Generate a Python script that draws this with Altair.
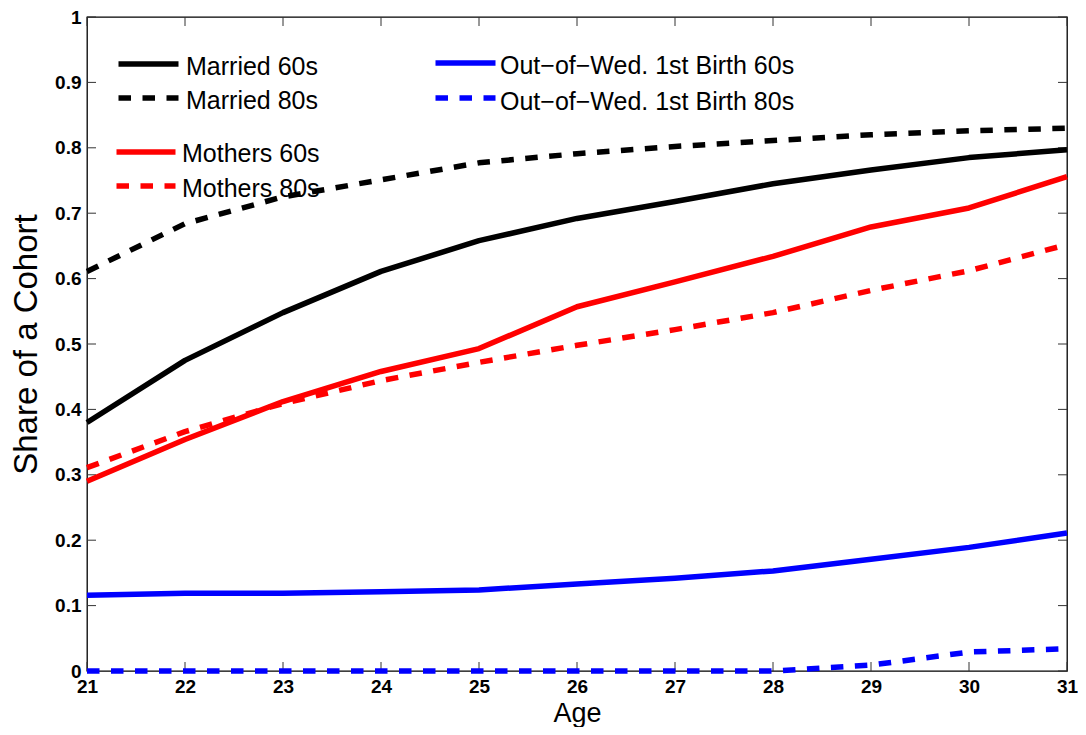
import altair as alt
import pandas as pd

# ---- data ----
ages = [21, 22, 23, 24, 25, 26, 27, 28, 29, 30, 31]
married_60s = [0.380, 0.475, 0.548, 0.611, 0.658, 0.692, 0.718, 0.745, 0.766, 0.785, 0.797]
married_80s = [0.611, 0.684, 0.725, 0.751, 0.777, 0.791, 0.802, 0.811, 0.820, 0.826, 0.830]
mothers_60s = [0.290, 0.354, 0.412, 0.458, 0.493, 0.557, 0.595, 0.634, 0.679, 0.708, 0.756]
mothers_80s = [0.311, 0.366, 0.409, 0.444, 0.472, 0.498, 0.522, 0.548, 0.582, 0.612, 0.652]
oow_60s = [0.116, 0.119, 0.119, 0.121, 0.124, 0.133, 0.142, 0.153, 0.171, 0.189, 0.211]
oow_80s = [0.0, 0.0, 0.0, 0.0, 0.0, 0.0, 0.0, 0.0, 0.009, 0.029, 0.034]

series_names = ["Married 60s", "Married 80s", "Mothers 60s", "Mothers 80s",
                "Out\u2212of\u2212Wed. 1st Birth 60s", "Out\u2212of\u2212Wed. 1st Birth 80s"]
series_values = [married_60s, married_80s, mothers_60s, mothers_80s, oow_60s, oow_80s]

x_ticks = [21, 22, 23, 24, 25, 26, 27, 28, 29, 30, 31]
y_ticks = [0.0, 0.1, 0.2, 0.3, 0.4, 0.5, 0.6, 0.7, 0.8, 0.9, 1.0]

# ---- styles / layout ----
series_colors = ["#000000", "#000000", "#ff0000", "#ff0000", "#0000ff", "#0000ff"]
series_dashed = [False, True, False, True, False, True]
DASH = [12.5, 11.5]
W, H = 980, 654
FONT = "Liberation Sans"
LW = 5.5

# legend layout (pixels inside plot area): line x1, x2, line y, text x, text baseline
legend_layout = [
    (31.5, 91.5, 47, 99, 58),
    (31.5, 91.5, 81, 99, 92),
    (29.5, 88.5, 135, 95, 145),
    (29.5, 88.5, 169, 95, 180),
    (348.5, 408.5, 46, 413, 57),
    (348.5, 408.5, 81, 413, 93),
]

xscale = alt.Scale(domain=[21, 31], nice=False, zero=False)
yscale = alt.Scale(domain=[0, 1], nice=False, zero=True)

x_axis = alt.Axis(values=x_ticks, format="d", ticks=False, domain=False, grid=False,
                  labelFont=FONT, labelFontSize=19, labelFontWeight="bold", labelColor="#000",
                  labelPadding=21, labelBaseline="alphabetic", labelFlush=False,
                  title="Age", titleFont=FONT, titleFontSize=27, titleFontWeight="normal",
                  titleColor="#000", titleY=50, titleBaseline="alphabetic")
y_axis = alt.Axis(values=y_ticks, format="~g", ticks=False, domain=False, grid=False,
                  labelFont=FONT, labelFontSize=19, labelFontWeight="bold", labelColor="#000",
                  labelPadding=6, labelFlush=False,
                  title="Share of a Cohort", titleFont=FONT, titleFontSize=33,
                  titleFontWeight="normal", titleColor="#000", titleX=-51, titleY=H / 2,
                  titleAngle=-90, titleAlign="center", titleBaseline="alphabetic")


def X(field):
    return alt.X(field, scale=xscale, axis=x_axis, title="Age")


def Y(field):
    return alt.Y(field, scale=yscale, axis=y_axis, title="Share of a Cohort")


layers = []

# inward tick marks on all four sides
xt_df = pd.DataFrame({"age": x_ticks})
yt_df = pd.DataFrame({"value": y_ticks})
tick_color = "#333333"
layers.append(alt.Chart(xt_df).mark_rule(color=tick_color, strokeWidth=1).encode(
    x=X("age:Q"), y=alt.value(H), y2=alt.value(H - 9)))
layers.append(alt.Chart(xt_df).mark_rule(color=tick_color, strokeWidth=1).encode(
    x=X("age:Q"), y=alt.value(0), y2=alt.value(9)))
layers.append(alt.Chart(yt_df).mark_rule(color=tick_color, strokeWidth=1).encode(
    y=Y("value:Q"), x=alt.value(0), x2=alt.value(9)))
layers.append(alt.Chart(yt_df).mark_rule(color=tick_color, strokeWidth=1).encode(
    y=Y("value:Q"), x=alt.value(W), x2=alt.value(W - 9)))

# legend texts (drawn beneath the data lines, as in the reference)
for name, (lx1, lx2, ly, tx, ty) in zip(series_names, legend_layout):
    layers.append(
        alt.Chart(pd.DataFrame({"label": [name]})).mark_text(
            font=FONT, fontSize=25, align="left", baseline="alphabetic", color="#000"
        ).encode(x=alt.value(tx), y=alt.value(ty), text="label:N")
    )

# legend line samples
for name, color, dashed, (lx1, lx2, ly, tx, ty) in zip(series_names, series_colors, series_dashed, legend_layout):
    kw = dict(color=color, strokeWidth=LW, strokeCap="butt")
    if dashed:
        kw["strokeDash"] = DASH
    layers.append(
        alt.Chart(pd.DataFrame({"label": [name]})).mark_rule(**kw).encode(
            x=alt.value(lx1), x2=alt.value(lx2), y=alt.value(ly))
    )

# data lines
for name, vals, color, dashed in zip(series_names, series_values, series_colors, series_dashed):
    df = pd.DataFrame({"age": ages, "value": vals, "series": name})
    kw = dict(color=color, strokeWidth=LW, strokeCap="butt", strokeJoin="round", clip=False)
    if dashed:
        kw["strokeDash"] = DASH
    layers.append(
        alt.Chart(df).mark_line(**kw).encode(x=X("age:Q"), y=Y("value:Q"))
    )

chart = alt.layer(*layers).properties(
    width=W, height=H,
    autosize=alt.AutoSizeParams(type="none"),
    padding={"left": 79, "top": 9, "right": 11, "bottom": 56},
    background="white",
).configure_view(stroke="#000000", strokeWidth=1.3)

chart.save("out.html", embed_options={"renderer": "svg", "actions": False})
